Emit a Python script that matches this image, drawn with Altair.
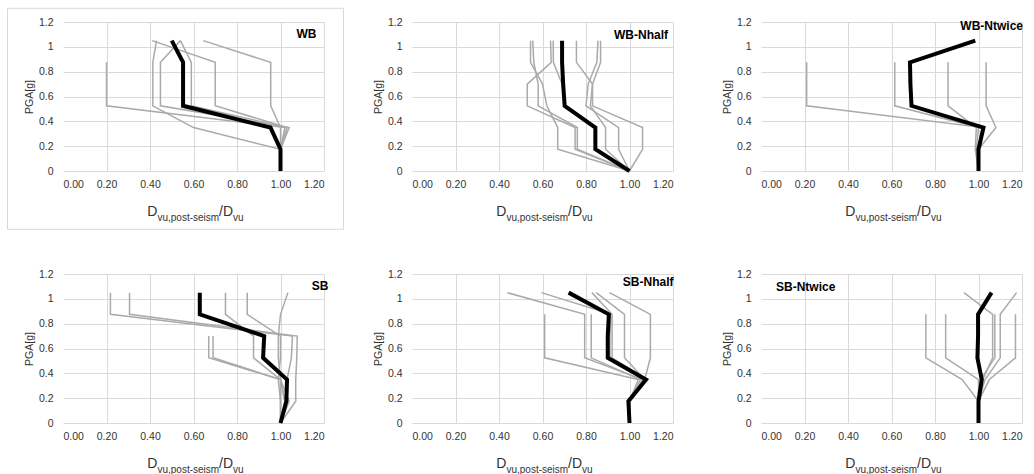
import altair as alt
import pandas as pd

# PGA steps shared by every record (g)
PGA = [0.0, 0.175, 0.35, 0.525, 0.7, 0.875, 1.05]

# Residual capacity ratio per record (one list per accelerogram, in PGA order)
WB_RECORDS = [
    [1.00, 1.00, 1.02, 0.20, 0.20, 0.20],
    [1.00, 1.00, 1.00, 0.955, 0.955, 0.955, 0.645],
    [1.00, 1.00, 1.03, 0.70, 0.70, 0.70, 0.41],
    [1.00, 1.00, 0.60, 0.413, 0.413, 0.413, 0.43],
    [1.00, 1.00, 1.04, 0.448, 0.448, 0.448, 0.54],
    [1.00, 1.00, 1.03, 0.59, 0.59, 0.59, 0.54],
]
WB_MEAN = [1.00, 1.00, 0.954, 0.552, 0.552, 0.552, 0.50]

WB_NHALF_RECORDS = [
    [1.00, 0.67, 0.67, 0.62, 0.60, 0.545, 0.545],
    [1.00, 0.76, 0.76, 0.58, 0.58, 0.56, 0.555],
    [1.00, 0.75, 0.75, 0.53, 0.53, 0.64, 0.637],
    [1.00, 0.84, 0.84, 0.70, 0.69, 0.65, 0.649],
    [1.00, 0.89, 0.89, 0.82, 0.83, 0.756, 0.756],
    [1.00, 0.95, 0.95, 0.80, 0.81, 0.85, 0.855],
    [1.00, 1.06, 1.06, 0.83, 0.83, 0.867, 0.867],
]
WB_NHALF_MEAN = [1.00, 0.843, 0.843, 0.702, 0.695, 0.69, 0.69]

WB_NTWICE_RECORDS = [
    [1.00, 1.00, 1.02, 0.21, 0.21, 0.21],
    [1.00, 0.99, 1.00, 0.615, 0.615, 0.615],
    [1.00, 0.985, 0.99, 0.86, 0.86, 0.86],
    [1.00, 1.00, 1.08, 1.035, 1.035, 1.035],
]
WB_NTWICE_MEAN = [1.00, 1.00, 1.023, 0.692, 0.687, 0.685, 0.985]

SB_RECORDS = [
    [1.00, 1.03, 1.03, 1.05, 1.055, 0.218, 0.218],
    [1.00, 1.07, 1.07, 1.075, 1.077, 0.306, 0.306],
    [1.00, 1.02, 1.00, 0.876, 0.876, 0.747, 0.747],
    [1.00, 1.00, 0.99, 1.00, 1.00, 0.847, 0.847],
    [1.00, 1.00, 1.00, 0.99, 0.99, 1.00, 1.034],
    [1.00, 1.02, 1.00, 0.67, 0.67],
    [1.00, 1.04, 1.00, 0.69, 0.69],
]
SB_MEAN = [1.00, 1.027, 1.03, 0.92, 0.925, 0.629, 0.629]

SB_NHALF_RECORDS = [
    [1.00, 1.00, 1.06, 0.794, 0.794, 0.794, 0.437],
    [1.00, 1.00, 1.07, 0.91, 0.91, 0.915, 0.595],
    [1.00, 1.00, 1.08, 0.92, 0.92, 0.92, 0.827],
    [1.00, 1.00, 1.07, 0.977, 0.977, 0.977, 0.847],
    [1.00, 1.00, 1.07, 1.096, 1.096, 1.096, 0.908],
    [1.00, 1.00, 1.04, 0.61, 0.61, 0.61],
    [1.00, 1.00, 1.05, 0.824, 0.824, 0.824],
]
SB_NHALF_MEAN = [1.00, 0.995, 1.076, 0.90, 0.90, 0.905, 0.72]

SB_NTWICE_RECORDS = [
    [1.00, 1.00, 1.02, 1.065, 1.065, 1.065, 0.933],
    [1.00, 1.00, 1.03, 1.10, 1.10, 1.10, 1.175],
    [1.00, 1.00, 0.925, 0.758, 0.758, 0.758],
    [1.00, 1.00, 1.00, 0.849, 0.849, 0.849],
    [1.00, 1.00, 1.05, 1.17, 1.17, 1.17],
    [1.00, 1.00, 1.01, 1.075, 1.075, 1.075],
]
SB_NTWICE_MEAN = [1.00, 1.00, 1.015, 0.995, 0.998, 0.998, 1.06]

AXIS_TICKS = [0.0, 0.2, 0.4, 0.6, 0.8, 1.0, 1.2]

# Plot-area size of each panel (px)
W, H = 261, 149
FONT = "Liberation Sans"
TEXT = "#333333"
GRID = "#d9d9d9"

# Arial advance widths (em) used to lay out the sub-scripted axis title
ADV = {"D": 0.722, "v": 0.5, "u": 0.556, ",": 0.278, "p": 0.556, "o": 0.556,
       "s": 0.5, "t": 0.278, "-": 0.333, "e": 0.556, "i": 0.222, "m": 0.833,
       "/": 0.278}
TITLE_PARTS = [("D", 14, 0), ("vu,post-seism", 10, 5), ("/D", 14, 0), ("vu", 10, 5)]


def text_width(s, size):
    return sum(ADV.get(c, 0.55) for c in s) * size


def long_table(records):
    rows = []
    for r, vals in enumerate(records):
        for k, v in enumerate(vals):
            rows.append({"record": r, "step": k, "pga": PGA[k], "ratio": v})
    return pd.DataFrame(rows)


def x_title_layers():
    total = sum(text_width(s, size) for s, size, _ in TITLE_PARTS)
    x0 = W / 2 + 2 - total / 2
    layers = []
    for s, size, dy in TITLE_PARTS:
        layers.append(
            alt.Chart(pd.DataFrame({"t": [s]}))
            .mark_text(align="left", baseline="alphabetic", font=FONT,
                       fontSize=size, color=TEXT)
            .encode(text="t:N", x=alt.value(x0), y=alt.value(H + 45 + dy))
        )
        x0 += text_width(s, size)
    return layers


def panel(label, records, mean, lx, ly, align, framed=False):
    x = alt.X("ratio:Q",
              scale=alt.Scale(domain=[0, 1.2], nice=False, zero=False),
              axis=alt.Axis(values=AXIS_TICKS, format=".2f", title=None,
                            gridOpacity={"condition": {"test": "datum.value === 0", "value": 0},
                                         "value": 1}))
    y = alt.Y("pga:Q",
              scale=alt.Scale(domain=[0, 1.2], nice=False),
              axis=alt.Axis(values=AXIS_TICKS, format="~g", title="PGA[g]"))

    gray = alt.Chart(long_table(records)).mark_line(
        color="#aaaaaa", strokeWidth=1.5
    ).encode(x=x, y=y, detail="record:N", order="step:Q")

    black = alt.Chart(long_table([mean])).mark_line(
        color="#000000", strokeWidth=4
    ).encode(x=x, y=y, order="step:Q")

    name = alt.Chart(pd.DataFrame({"t": [label]})).mark_text(
        align=align, baseline="middle", font=FONT, fontSize=12,
        fontWeight="bold", color="#000000"
    ).encode(text="t:N", x=alt.value(lx), y=alt.value(ly))

    layers = []
    if framed:
        layers.append(
            alt.Chart(pd.DataFrame({"a": [0]})).mark_rect(
                fill="transparent", stroke=GRID, strokeWidth=1
            ).encode(x=alt.value(-55.5), x2=alt.value(280.5),
                     y=alt.value(-13.7), y2=alt.value(207.3))
        )
    layers += [gray, black, name] + x_title_layers()
    return alt.layer(*layers).properties(width=W, height=H)


panels = [
    panel("WB", WB_RECORDS, WB_MEAN, 253.5, 11.5, "right", framed=True),
    panel("WB-Nhalf", WB_NHALF_RECORDS, WB_NHALF_MEAN, 256, 13, "right"),
    panel("WB-Ntwice", WB_NTWICE_RECORDS, WB_NTWICE_MEAN, 262, 4, "right"),
    panel("SB", SB_RECORDS, SB_MEAN, 265.5, 11.7, "right"),
    panel("SB-Nhalf", SB_NHALF_RECORDS, SB_NHALF_MEAN, 261.5, 8.3, "right"),
    panel("SB-Ntwice", SB_NTWICE_RECORDS, SB_NTWICE_MEAN, 15, 13.3, "left"),
]

chart = (
    alt.concat(*panels, columns=3, spacing={"row": 103, "column": 88},
               bounds="flush")
    .properties(padding={"left": 7, "top": 7, "right": 5, "bottom": 5},
                background="white")
    .configure_view(stroke=None)
    .configure_axis(
        ticks=False, domain=False, grid=True, gridColor=GRID, gridWidth=1,
        labelFont=FONT, labelFontSize=10.5, labelColor=TEXT,
        titleFont=FONT, titleFontSize=10.5, titleColor=TEXT,
        titleFontWeight="normal",
    )
    .configure_axisX(labelPadding=8)
    .configure_axisY(labelPadding=10, titlePadding=4)
)

chart.save("out.html", embed_options={"renderer": "svg", "actions": False})
